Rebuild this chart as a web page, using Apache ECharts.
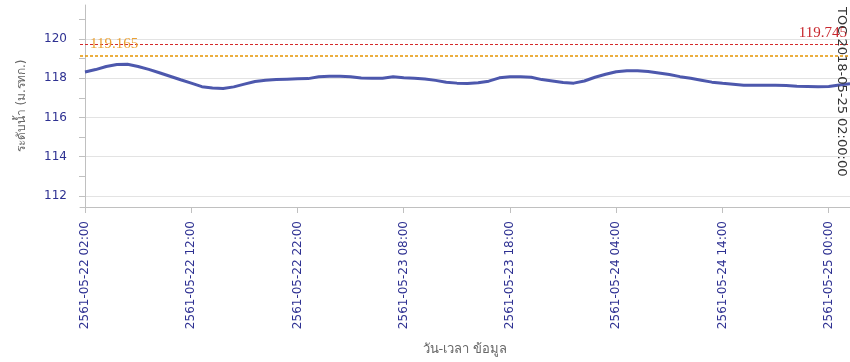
<!DOCTYPE html>
<html>
<head>
<meta charset="utf-8">
<script src="https://cdn.jsdelivr.net/npm/echarts@6/dist/echarts.min.js"></script>
<style>
  html, body { margin: 0; padding: 0; background: #fff; }
  #chart { width: 850px; height: 362px; }
</style>
</head>
<body>
<div id="chart"></div>
<script>
// ระดับน้ำรายชั่วโมง เริ่ม 2561-05-22 02:00 (ชั่วโมงที่ 0)
var waterLevel = [
  118.32, 118.44, 118.60, 118.70, 118.71, 118.60, 118.45, 118.28, 118.10, 117.92,
  117.75, 117.57, 117.50, 117.48, 117.56, 117.70, 117.83, 117.90, 117.93, 117.95,
  117.97, 117.98, 118.07, 118.10, 118.10, 118.07, 118.01, 118.00, 118.00, 118.07,
  118.03, 118.00, 117.96, 117.89, 117.80, 117.75, 117.73, 117.77, 117.85, 118.02,
  118.07, 118.07, 118.05, 117.93, 117.86, 117.78, 117.75, 117.86, 118.05, 118.20,
  118.33, 118.38, 118.38, 118.34, 118.27, 118.19, 118.08, 118.00, 117.90, 117.80,
  117.74, 117.69, 117.64, 117.64, 117.64, 117.64, 117.63, 117.59, 117.58, 117.57,
  117.58, 117.66, 117.72
];
var tickHours = [0, 10, 20, 30, 40, 50, 60, 70];
var tickLabels = [
  '2561-05-22 02:00', '2561-05-22 12:00', '2561-05-22 22:00', '2561-05-23 08:00',
  '2561-05-23 18:00', '2561-05-24 04:00', '2561-05-24 14:00', '2561-05-25 00:00'
];
var yLabelValues = [112, 114, 116, 118, 120];
var yTickValues = [112, 113, 114, 115, 116, 117, 118, 119, 120, 121];
var bankLevel = 119.745;   // เส้นแดง
var groundLevel = 119.165; // เส้นส้ม
var tocHour = 72;
var tocText = 'TOC 2018-05-25 02:00:00';

var yMin = 111.44, yMax = 121.73;

var seriesData = [];
for (var i = 0; i < waterLevel.length; i++) {
  seriesData.push([i, waterLevel[i]]);
}

var chart = echarts.init(document.getElementById('chart'));
var font = 'DejaVu Sans, Tahoma, sans-serif';
var labelColor = '#2e3192';

chart.setOption({
  animation: false,
  grid: { left: 80, right: -2, top: 5, bottom: 155 },
  xAxis: {
    type: 'value',
    min: -0.47,
    max: 72,
    name: 'วัน-เวลา ข้อมูล',
    nameLocation: 'middle',
    nameGap: 136,
    nameTextStyle: { color: '#666', fontSize: 13, fontFamily: font },
    axisLine: { show: true, lineStyle: { color: '#c0c0c0' } },
    axisTick: { show: true, length: 6, customValues: tickHours, lineStyle: { color: '#c0c0c0' } },
    axisLabel: {
      customValues: tickHours,
      rotate: 90,
      margin: 14,
      color: labelColor,
      fontSize: 12,
      fontFamily: font,
      formatter: function (v) {
        var idx = tickHours.indexOf(Math.round(v));
        return idx >= 0 ? tickLabels[idx] : '';
      }
    },
    splitLine: { show: false }
  },
  yAxis: [{
    type: 'value',
    min: yMin,
    max: yMax,
    position: 'left',
    name: 'ระดับน้ำ (ม.รทก.)',
    nameLocation: 'middle',
    nameGap: 52,
    nameTextStyle: { color: '#666', fontSize: 12, fontFamily: font },
    axisLine: { show: true, lineStyle: { color: '#c0c0c0' } },
    axisTick: { show: true, length: 6, customValues: yTickValues, lineStyle: { color: '#c0c0c0' } },
    axisLabel: { customValues: yLabelValues, margin: 13, color: labelColor, fontSize: 12, fontFamily: font },
    splitLine: { show: false }
  }, {
    type: 'value',
    min: yMin,
    max: yMax,
    position: 'left',
    axisLine: { show: false },
    axisTick: { show: false, customValues: yLabelValues },
    axisLabel: { show: false, customValues: yLabelValues },
    splitLine: { show: true, lineStyle: { color: '#e3e3e3' } }
  }],
  series: [{
    name: 'ระดับน้ำ',
    type: 'line',
    data: seriesData,
    showSymbol: false,
    clip: true,
    lineStyle: { color: '#3a46a4', width: 3, opacity: 0.9 },
    markLine: {
      silent: true,
      symbol: ['none', 'none'],
      data: [
        {
          yAxis: bankLevel,
          lineStyle: { color: '#d42a2a', type: [3, 2], width: 1, opacity: 1 },
          label: {
            position: 'insideEndTop', distance: 3, formatter: String(bankLevel),
            color: '#c8282e', fontSize: 15, fontFamily: 'Liberation Serif, serif'
          }
        },
        {
          yAxis: groundLevel,
          lineStyle: { color: '#e69500', type: [3, 2], width: 1.5, opacity: 1 },
          label: {
            position: 'insideStartTop', distance: 4, padding: [0, 0, 0, 6], formatter: String(groundLevel),
            color: '#eba133', fontSize: 15, fontFamily: 'Liberation Serif, serif'
          }
        },
        [
          {
            coord: [tocHour, yMax],
            lineStyle: { color: 'rgba(0,0,0,0)', type: 'solid', width: 1 },
            label: {
              position: 'insideStartBottom', distance: 2, formatter: tocText,
              color: '#333', fontSize: 13, fontFamily: font
            }
          },
          { coord: [tocHour, yMin] }
        ]
      ]
    }
  }]
});
</script>
</body>
</html>
